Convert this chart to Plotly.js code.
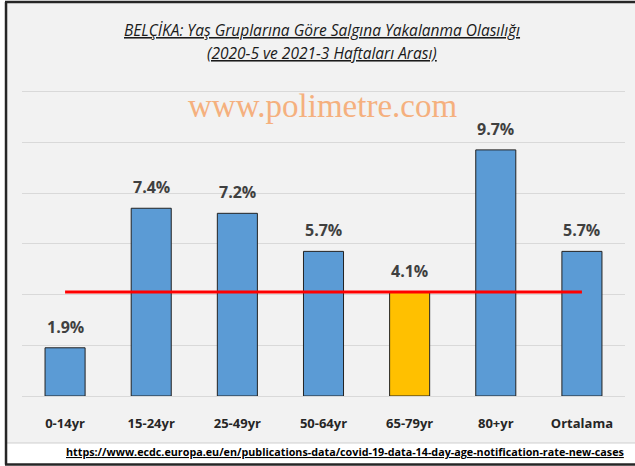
<!DOCTYPE html>
<html>
<head>
<meta charset="utf-8">
<script src="https://cdn.plot.ly/plotly-3.0.1.min.js"></script>
<style>html,body{margin:0;padding:0;background:#fff;}#chart{width:635px;height:466px;}</style>
</head>
<body>
<div id="chart"></div>
<script>
const categories = ["0-14yr", "15-24yr", "25-49yr", "50-64yr", "65-79yr", "80+yr", "Ortalama"];
const values = [1.9, 7.4, 7.2, 5.7, 4.1, 9.7, 5.7];
const valueLabels = ["1.9%", "7.4%", "7.2%", "5.7%", "4.1%", "9.7%", "5.7%"];
const referenceLevel = 4.1;
const titleLine1 = "BELÇİKA: Yaş Gruplarına Göre Salgına Yakalanma Olasılığı";
const titleLine2 = "(2020-5 ve 2021-3 Haftaları Arası)";
const watermark = "www.polimetre.com";
const sourceText = "https://www.ecdc.europa.eu/en/publications-data/covid-19-data-14-day-age-notification-rate-new-cases";

const FONT = "Open Sans, Noto Sans, sans-serif";
const barColors = categories.map(c => c === "65-79yr" ? "#ffc000" : "#5b9bd5");

const traces = [
  {
    type: "bar",
    x: categories,
    y: values,
    width: 0.465,
    marker: {color: barColors, line: {color: "#222222", width: 1}},
    hoverinfo: "skip"
  },
  {
    type: "scatter",
    mode: "lines",
    x: [categories[0], categories[categories.length - 1]],
    y: [referenceLevel, referenceLevel],
    line: {color: "#ff0000", width: 3},
    hoverinfo: "skip"
  }
];

const annotations = categories.map((c, i) => ({
  x: c, y: values[i], xref: "x", yref: "y",
  text: valueLabels[i], showarrow: false,
  yanchor: "bottom", yshift: 8,
  font: {family: FONT, size: 16, color: "#404040", weight: "bold"}
}));

annotations.push(
  {xref: "paper", yref: "paper", x: 0.498, y: 1.192, text: "<i><u>" + titleLine1 + "</u></i>",
   showarrow: false, xanchor: "center", yanchor: "middle",
   font: {family: FONT, size: 15.5, color: "#1a1a1a"}},
  {xref: "paper", yref: "paper", x: 0.498, y: 1.117, text: "<i><u>" + titleLine2 + "</u></i>",
   showarrow: false, xanchor: "center", yanchor: "middle",
   font: {family: FONT, size: 15.5, color: "#1a1a1a"}},
  {xref: "paper", yref: "paper", x: 0.498, y: 0.9446, text: watermark,
   showarrow: false, xanchor: "center", yanchor: "middle",
   font: {family: "Liberation Serif, Times New Roman, serif", size: 33, color: "#f5b07e"}},
  {xref: "paper", yref: "paper", x: 1.0017, y: -0.1824, text: "<b><u>" + sourceText + "</u></b>",
   showarrow: false, xanchor: "right", yanchor: "middle",
   font: {family: FONT, size: 10.75, color: "#000000"}}
);

const shapes = [
  {type: "rect", xref: "paper", yref: "paper", x0: -0.0265, x1: 1.03, y0: -0.1531, y1: 1.2834,
   fillcolor: "#f2f2f2", line: {width: 0}, layer: "below"},
  {type: "line", xref: "paper", yref: "paper", x0: -0.0282, x1: 1.03, y0: -0.1531, y1: -0.1531,
   line: {color: "#cfcfcf", width: 1}, layer: "below"},
  {type: "line", xref: "paper", yref: "paper", x0: -0.0282, x1: 1.03, y0: 1.2834, y1: 1.2834,
   line: {color: "#262626", width: 2.5}},
  {type: "line", xref: "paper", yref: "paper", x0: -0.0265, x1: -0.0265, y0: -0.2231, y1: 1.2834,
   line: {color: "#262626", width: 2.5}},
  {type: "line", xref: "paper", yref: "paper", x0: -0.0282, x1: 1.03, y0: -0.2231, y1: -0.2231,
   line: {color: "#262626", width: 2.5}}
];

const layout = {
  width: 635, height: 466,
  margin: {l: 22, r: 10, t: 89, b: 70, pad: 0},
  paper_bgcolor: "#ffffff",
  plot_bgcolor: "rgba(0,0,0,0)",
  showlegend: false,
  bargap: 0,
  xaxis: {
    type: "category", showgrid: false, showline: false, zeroline: false, ticks: "",
    ticklabelstandoff: 18,
    tickfont: {family: FONT, size: 13, color: "#262626", weight: "bold"}
  },
  yaxis: {
    range: [0, 12.1], tick0: 0, dtick: 2, showticklabels: false, showgrid: true,
    gridcolor: "#d9d9d9", gridwidth: 1, zeroline: true, zerolinecolor: "#d9d9d9",
    zerolinewidth: 1, showline: false, fixedrange: true
  },
  annotations: annotations,
  shapes: shapes
};

Plotly.newPlot("chart", traces, layout, {displayModeBar: false, staticPlot: true});
</script>
</body>
</html>
